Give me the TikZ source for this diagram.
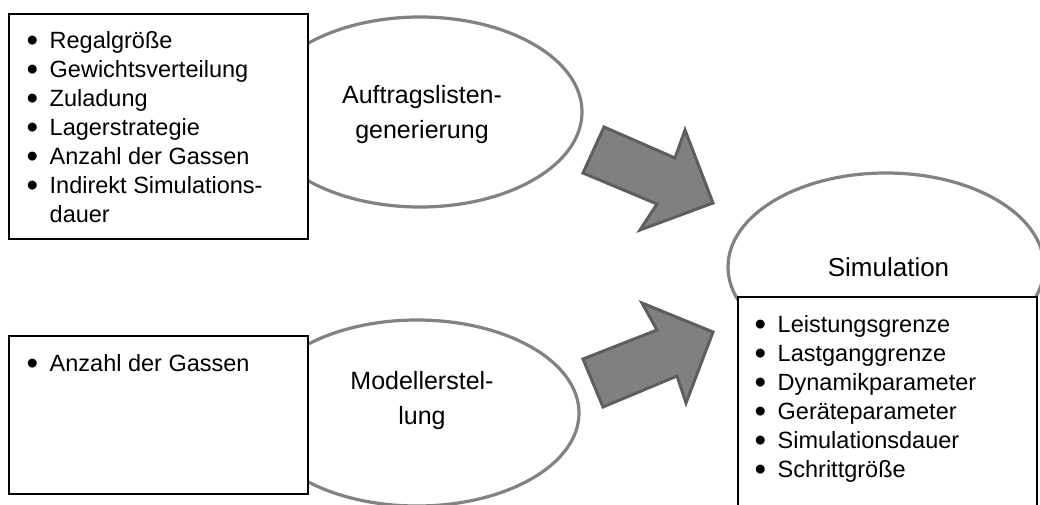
\documentclass[tikz,border=0pt]{standalone}
\usepackage{fontspec}
\usepackage{graphicx}
\setmainfont{Liberation Sans}
\usetikzlibrary{shapes.geometric}

\definecolor{ringgray}{RGB}{130,130,130}
\definecolor{arrowfill}{RGB}{128,128,128}
\definecolor{arrowedge}{RGB}{94,94,94}

\newcommand{\itm}[1]{\makebox[23pt][l]{\smash{\raisebox{-3.2pt}{\scalebox{1.4}{\textbullet}}}}#1}
\newcommand{\cnt}[1]{\makebox[23pt][l]{}#1}

\tikzset{
  phase/.style={draw=ringgray, line width=3.2pt, fill=white, ellipse, inner sep=0pt},
  listbox/.style={draw=black, line width=1.1pt, fill=white},
  listtext/.style={anchor=north west, inner sep=0pt, font=\fontsize{23.5}{29}\selectfont},
  phasetext/.style={inner sep=0pt, font=\fontsize{25}{35}\selectfont},
  blockarrow/.style={draw=arrowedge, fill=arrowfill, line width=3pt, line join=miter}
}

\begin{document}
\begin{tikzpicture}[x=1pt, y=-1pt]
\useasboundingbox (0,0) rectangle (1040,505);
\clip (0,0) rectangle (1040,505);
\fill[white] (0,0) rectangle (1040,505);

% order-list generation
\node[phase, minimum width=324pt, minimum height=190pt] (gen) at (420,112) {};
\draw[listbox] (9,14) rectangle (308,239);
\node[listtext] (genlist) at (26.5,27.7) {\begin{tabular}{@{}l@{}}
\itm{Regalgröße}\\
\itm{Gewichtsverteilung}\\
\itm{Zuladung}\\
\itm{Lagerstrategie}\\
\itm{Anzahl der Gassen}\\
\itm{Indirekt Simulations-}\\
\cnt{dauer}
\end{tabular}};
\node[phasetext] (gentext) at (422,114.5) {\begin{tabular}{@{}c@{}}Auftragslisten-\\generierung\end{tabular}};

% model building
\node[phase, minimum width=324pt, minimum height=186pt] (mod) at (417,413) {};
\draw[listbox] (9,336) rectangle (308,494);
\node[listtext] (modlist) at (26.5,350.7) {\begin{tabular}{@{}l@{}}
\itm{Anzahl der Gassen}
\end{tabular}};
\node[phasetext] (modtext) at (422,399.5) {\begin{tabular}{@{}c@{}}Modellerstel-\\lung\end{tabular}};

% simulation
\node[phase, minimum width=316pt, minimum height=188pt] (sim) at (886,267) {};
\node[phasetext, font=\fontsize{26}{35}\selectfont] (simtext) at (888.5,269) {\begin{tabular}{@{}c@{}}Simulation\end{tabular}};
\draw[listbox] (738,530) -- (738,297) -- (1037,297) -- (1037,530);
\node[listtext] (simlist) at (754.5,311.7) {\begin{tabular}{@{}l@{}}
\itm{Leistungsgrenze}\\
\itm{Lastganggrenze}\\
\itm{Dynamikparameter}\\
\itm{Geräteparameter}\\
\itm{Simulationsdauer}\\
\itm{Schrittgröße}
\end{tabular}};

% block arrows towards the simulation
\draw[blockarrow] (604,127) -- (675,158) -- (685,130) -- (713,203) -- (640,230) -- (657,204) -- (583,173) -- cycle;
\draw[blockarrow] (583,359) -- (657,330) -- (642,303) -- (713,332) -- (686,403) -- (677,376) -- (603,407) -- cycle;
\end{tikzpicture}
\end{document}
